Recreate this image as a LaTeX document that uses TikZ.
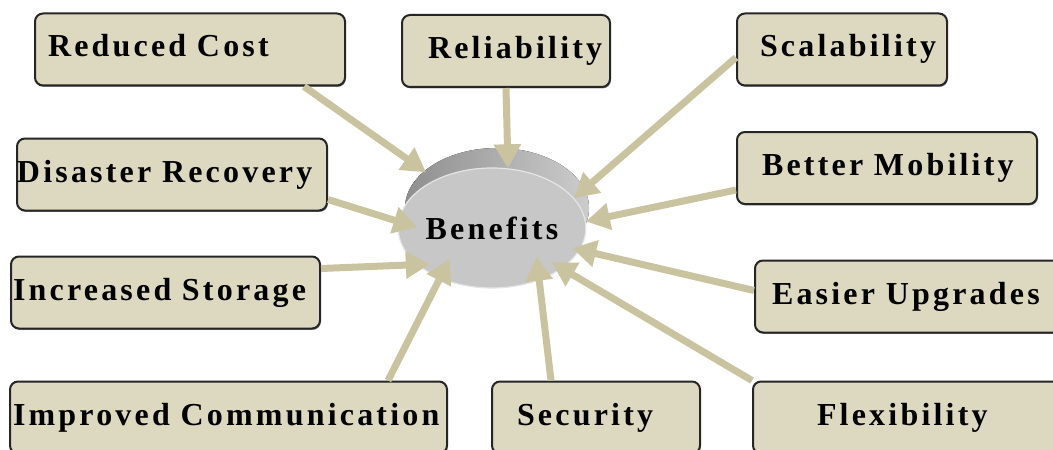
\documentclass[tikz,border=0pt]{standalone}
\usepackage{fontspec}
\usepackage{xcolor}
\usetikzlibrary{shapes.geometric,arrows.meta,shadows}
\newfontfamily\boxfont{Liberation Serif}[LetterSpace=10]
\definecolor{boxfill}{RGB}{221,217,193}
\definecolor{arrowcol}{RGB}{201,195,160}

\begin{document}
\begin{tikzpicture}[x=0.5pt,y=-0.5pt,
  box/.style={draw=black!85, line width=1pt, fill=boxfill, rounded corners=4pt,
    minimum height=36pt, text height=11pt, text depth=3.5pt, align=left,
    font=\boxfont\bfseries\fontsize{16}{18}\selectfont,
    drop shadow={shadow xshift=0.4pt, shadow yshift=-0.7pt, fill=black!60, opacity=0.8}},
  feed/.style={draw=arrowcol, line width=3.5pt, -{Triangle[length=12pt,width=13pt]}}]
\useasboundingbox (0,0) rectangle (1053,449);
\fill[left color=black!44, right color=black!20] (497,208) ellipse [x radius=92, y radius=60];
\node[ellipse, fill=black!22, draw=black!10, line width=0.6pt, minimum width=92pt, minimum height=60pt, inner sep=0pt,
  font=\boxfont\bfseries\fontsize{16}{18}\selectfont] (ben) at (492,228) {Benefits};

\node[box, minimum width=155pt, text width=142pt, inner xsep=6.5pt] (rc) at (190,49.5) {Reduced Cost};
\node[box, minimum width=104pt, text width=78pt, inner xsep=13pt] (rel) at (506,51) {Reliability};
\node[box, minimum width=105pt, text width=82pt, inner xsep=11.5pt] (sca) at (842,49.5) {Scalability};
\node[box, minimum width=155pt, text width=155pt, inner xsep=0pt] (dr) at (172,174.5) {Disaster Recovery};
\node[box, minimum width=150pt, text width=125pt, inner xsep=12.5pt] (bm) at (887,168) {Better Mobility};
\node[box, minimum width=154.5pt, text width=152.5pt, inner xsep=1pt] (is) at (165.5,292.5) {Increased Storage};
\node[box, minimum width=153.5pt, text width=136.5pt, inner xsep=8.5pt] (eu) at (908.5,296.5) {Easier Upgrades};
\node[box, minimum width=218.5pt, text width=215.5pt, inner xsep=1.5pt] (ic) at (228.5,417.5) {Improved Communication};
\node[box, minimum width=104pt, text width=79pt, inner xsep=12.5pt] (sec) at (596,417.5) {Security};
\node[box, minimum width=154.5pt, text width=90.5pt, inner xsep=32pt] (fl) at (907.5,417.5) {Flexibility};

\draw[feed, shorten >=6pt] ([xshift=-21pt]rc.south east) -- (ben.139);
\draw[feed] (rel.south) -- (ben.75);
\draw[feed] ([yshift=-4pt]sca.west) -- (ben.20);
\draw[feed] ([yshift=-11pt]bm.west) -- (ben.4);
\draw[feed, shorten >=-4pt] ([yshift=3pt]eu.west) -- (ben.-14);
\draw[feed, shorten >=-6pt] (fl.north west) -- (ben.-30);
\draw[feed, shorten >=-12pt] ([xshift=30pt]sec.north west) -- (ben.-48);
\draw[feed, shorten >=-11pt] ([xshift=-30pt]ic.north east) -- (ben.-136);
\draw[feed, shorten >=-6.5pt] ([yshift=-6.5pt]is.north east) -- (ben.-154);
\draw[feed, shorten >=-10pt] ([yshift=6pt]dr.south east) -- (ben.176);
\end{tikzpicture}
\end{document}
